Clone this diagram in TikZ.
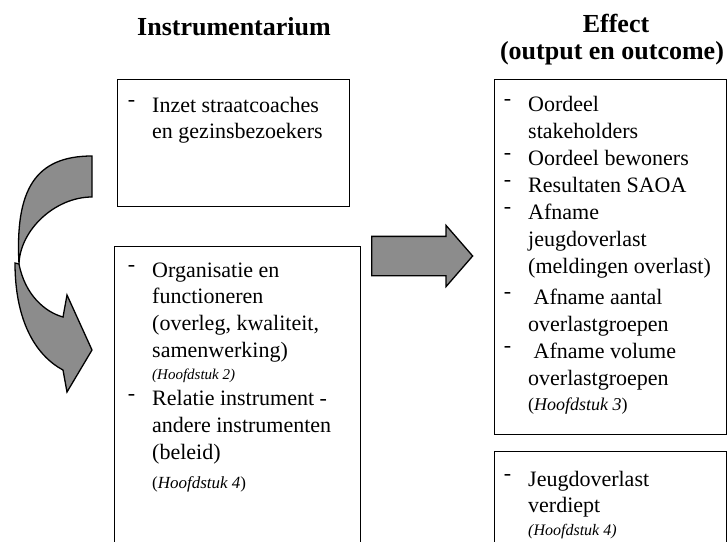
\documentclass[tikz,border=0pt]{standalone}
\usepackage{fontspec}
\setmainfont{Liberation Serif}
\usetikzlibrary{shapes.arrows}

\newcommand{\bul}{\leavevmode\llap{\raisebox{.24em}{-}\hspace{17pt}}}

\tikzset{
  pijlvorm/.style={draw, line width=1.3pt, fill=black!45},
  kader/.style={draw, line width=1.1pt, inner sep=0pt, anchor=north west}
}

\begin{document}
\begin{tikzpicture}[x=1pt,y=-1pt]

        \useasboundingbox (0,0) rectangle (728,541);
        \clip (0,0) rectangle (728,541);

        \begin{scope}[every node/.style={font=\fontsize{26}{28}\selectfont\bfseries, anchor=base, inner sep=0pt}]
          \node (titel1) at (234,35) {Instrumentarium};
          \node (titel2) at (616,32) {Effect};
          \node (titel3) at (612,59) {(output en outcome)};
        \end{scope}

        \begin{scope}[every node/.style={kader}]
          \node[minimum width=232, minimum height=127] (inzet) at (117,79) {};
          \node[minimum width=246, minimum height=320] (organisatie) at (114,246) {};
          \node[minimum width=232, minimum height=355] (oordeel) at (494,79) {};
          \node[minimum width=232, minimum height=120] (jeugd) at (494,451) {};
        \end{scope}

        \begin{scope}[every node/.style={anchor=base west, inner sep=0pt, font=\fontsize{22}{26.7}\selectfont}]
          \node (inzettekst) at (152,112) {\parbox[t]{195pt}{\bul Inzet straatcoaches\\
              en gezinsbezoekers}};
          \node (organisatietekst) at (152,277) {\parbox[t]{205pt}{\bul Organisatie en\\
              functioneren\\
              (overleg, kwaliteit,\\
              samenwerking)\\[-4.7pt]
              {\fontsize{15}{18}\selectfont\itshape (Hoofdstuk 2)}\\
              \bul Relatie instrument -\\
              andere instrumenten\\
              (beleid)\\[2.3pt]
              {\fontsize{17}{20}\selectfont (\textit{Hoofdstuk 4})}}};
          \node[font=\fontsize{22}{27}\selectfont] (oordeeltekst) at (528,111) {\parbox[t]{195pt}{\bul Oordeel\\
              stakeholders\\
              \bul Oordeel bewoners\\
              \bul Resultaten SAOA\\
              \bul Afname\\
              jeugdoverlast\\
              (meldingen overlast)\\[4pt]
              \bul\ Afname aantal\\
              overlastgroepen\\
              \bul\ Afname volume\\
              overlastgroepen\\[-2pt]
              {\fontsize{18}{21}\selectfont (\textit{Hoofdstuk 3})}}};
          \node (jeugdtekst) at (528,486) {\parbox[t]{195pt}{\bul Jeugdoverlast\\
              verdiept\\[-3.7pt]
              {\fontsize{16}{19}\selectfont\itshape (Hoofdstuk 4)}}};
        \end{scope}

        \node[pijlvorm, single arrow, minimum height=101, inner xsep=0pt, inner ysep=19pt,
              single arrow head extend=11, single arrow tip angle=98,
              anchor=tail] (pijl) at (371,256) {};

        \path[pijlvorm] (19,264) .. controls (25,295) and (45,312) .. (63,317)
              -- (67,295) -- (92,350) -- (67,392) -- (63,370)
              .. controls (35,355) and (15,320) .. (15,263) -- cycle;
        \path[pijlvorm] (92,156) -- (92,197)
              .. controls (55,197) and (20,230) .. (19,264)
              .. controls (15,190) and (35,156) .. (92,156) -- cycle;

      \end{tikzpicture}
\end{document}
